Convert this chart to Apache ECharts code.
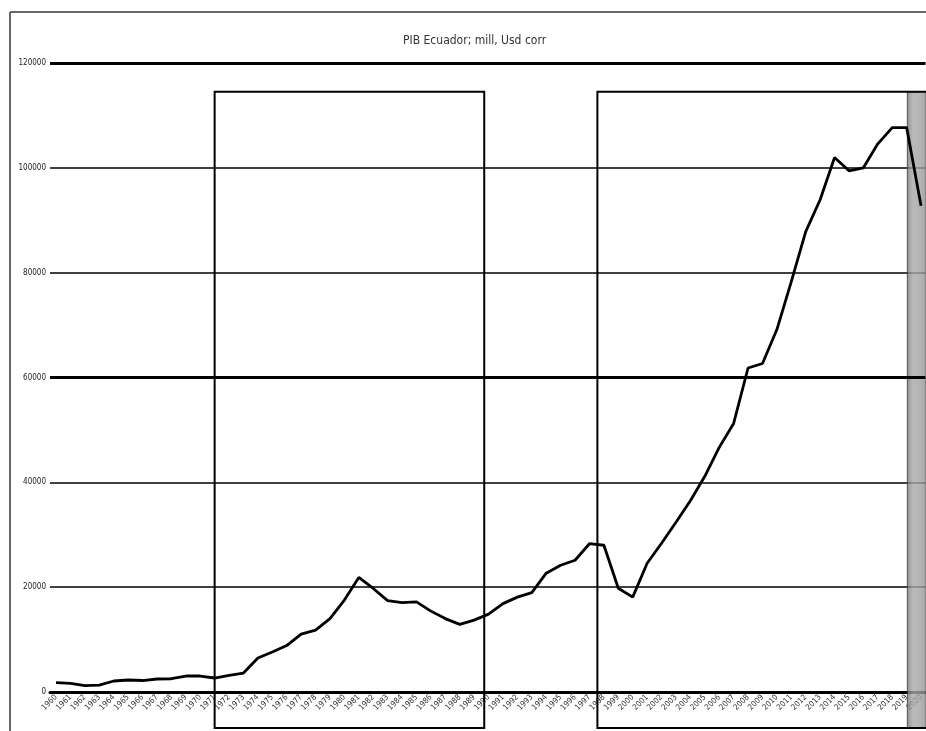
<!DOCTYPE html>
<html>
<head>
<meta charset="utf-8">
<script src="https://cdn.jsdelivr.net/npm/echarts@6/dist/echarts.min.js"></script>
<style>
html,body{margin:0;padding:0;background:#fff;}
#c{width:926px;height:731px;}
</style>
</head>
<body>
<div id="c"></div>
<script>
const years = [];
for (let y = 1960; y <= 2020; y++) years.push(y);
const gdp = [
  1770, 1660, 1200, 1330, 2100, 2290, 2190, 2480, 2530, 3050,
  3050, 2670, 3180, 3620, 6480, 7620, 8860, 11050, 11810, 14000,
  17530, 21850, 19750, 17430, 17050, 17200, 15430, 14000, 12900, 13720,
  14860, 16860, 18100, 18950, 22670, 24190, 25140, 28290, 28000, 19800,
  18100, 24570, 28380, 32380, 36480, 41150, 46670, 51240, 61810, 62670,
  69150, 78290, 87820, 93910, 101970, 99430, 100000, 104580, 107680, 107680,
  92770
];
const yTicks = [0, 20000, 40000, 60000, 80000, 100000, 120000];
const thickLevels = [60000, 120000];
const periods = [[1971.0, 1989.7], [1997.55, 2020.4]];
const highlight = [2019.05, 2020.4];
const boxTopValue = 114500;
const titleText = 'PIB Ecuador; mill, Usd corr';

const narrow = '"Liberation Sans Narrow", "DejaVu Sans Condensed", sans-serif';
const chart = echarts.init(document.getElementById('c'), null, {renderer: 'canvas'});
const option = {
  animation: false,
  backgroundColor: '#fff',
  title: {
    text: titleText,
    left: 398,
    top: 30,
    textStyle: {fontSize: 12, fontWeight: 'normal', color: '#333', fontFamily: narrow}
  },
  grid: {left: 50, right: 0, top: 63, bottom: 39, containLabel: false},
  xAxis: {
    type: 'value',
    min: 1959.58,
    max: 2020.3,
    splitLine: {show: false},
    axisTick: {show: false},
    axisLine: {show: true, onZero: false, lineStyle: {color: '#000', width: 3}},
    axisLabel: {
      customValues: years,
      showMaxLabel: true,
      rotate: 45,
      fontSize: 8,
      color: '#333',
      margin: 4,
      fontFamily: narrow,
      formatter: v => String(v)
    }
  },
  yAxis: {
    type: 'value',
    min: 0,
    max: 120000,
    interval: 20000,
    axisLine: {show: false},
    axisTick: {show: false},
    splitLine: {show: true, lineStyle: {color: '#000', width: 1.5}},
    axisLabel: {
      fontSize: 8,
      color: '#222',
      margin: 4,
      fontFamily: narrow,
      formatter: v => yTicks.includes(v) ? String(v) : ''
    }
  },
  series: [{
    type: 'line',
    data: years.map((y, i) => [y, gdp[i]]),
    showSymbol: false,
    symbol: 'none',
    lineStyle: {color: '#000', width: 2.8},
    z: 5,
    markLine: {
      silent: true,
      symbol: 'none',
      label: {show: false},
      lineStyle: {color: '#000', width: 3, type: 'solid'},
      data: thickLevels.map(v => ({yAxis: v}))
    }
  }]
};
chart.setOption(option);

function px(x, y) { return chart.convertToPixel({gridIndex: 0}, [x, y]); }
const zeroPt = px(1960, 0);
const bottomY = zeroPt[1] + 36;
const topY = px(1960, boxTopValue)[1];
const graphics = [];
graphics.push({type: 'line', shape: {x1: 10, y1: 12, x2: 10, y2: 731}, style: {stroke: '#666', lineWidth: 2}, z: 10});
graphics.push({type: 'line', shape: {x1: 10, y1: 12, x2: 926, y2: 12}, style: {stroke: '#666', lineWidth: 2}, z: 10});
const h0 = px(highlight[0], 0)[0], h1 = px(highlight[1], 0)[0];
graphics.push({type: 'rect', shape: {x: h0, y: topY, width: h1 - h0, height: bottomY - topY},
  style: {fill: new echarts.graphic.LinearGradient(0, 0, 1, 0, [
    {offset: 0, color: '#777'}, {offset: 0.3, color: '#a8a8a8'}, {offset: 0.7, color: '#a0a0a0'}, {offset: 1, color: '#888'}
  ]), stroke: '#333', lineWidth: 1, opacity: 0.8}, z: 1});
periods.forEach(p => {
  const a = px(p[0], 0)[0], b = px(p[1], 0)[0];
  graphics.push({type: 'rect', shape: {x: a, y: topY, width: b - a, height: bottomY - topY},
    style: {fill: 'none', stroke: '#000', lineWidth: 2}, z: 6});
});
chart.setOption({graphic: graphics});
</script>
</body>
</html>
